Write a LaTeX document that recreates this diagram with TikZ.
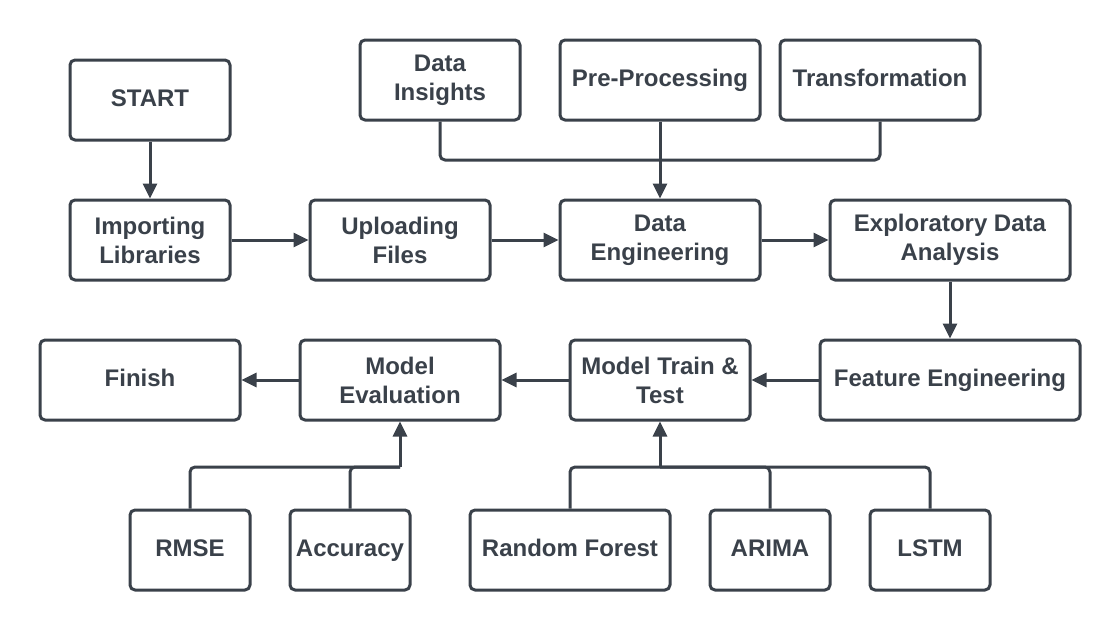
\documentclass[tikz,border=0pt]{standalone}
\usepackage{fontspec}
\setmainfont{Liberation Sans}
\usetikzlibrary{arrows.meta}
\definecolor{linegray}{HTML}{3A414A}
\tikzset{
  stepbox/.style={draw=linegray,line width=3pt,rounded corners=5pt,fill=white,text=linegray,
    font=\bfseries\fontsize{24}{29}\selectfont,align=center,inner sep=0pt,minimum height=80pt},
  oneline/.style={stepbox,text height=17pt,text depth=5pt},
  flow/.style={draw=linegray,line width=3pt,rounded corners=5pt},
  flowarrow/.style={flow,-{Triangle[length=15pt,width=14pt]}}
}
\begin{document}
\begin{tikzpicture}[x=1pt,y=-1pt,line join=round]
\useasboundingbox (0,0) rectangle (1120,635);
\node[oneline,minimum width=160pt] (start) at (150,100) {START};
\node[stepbox,minimum width=160pt] (implib) at (150,240) {Importing\\Libraries};
\node[stepbox,minimum width=180pt] (upload) at (400,240) {Uploading\\Files};
\node[stepbox,minimum width=200pt] (dataeng) at (660,240) {Data\\Engineering};
\node[stepbox,minimum width=240pt] (eda) at (950,240) {Exploratory Data\\Analysis};
\node[stepbox,minimum width=160pt] (insights) at (440,80) {Data\\Insights};
\node[oneline,minimum width=200pt] (preproc) at (660,80) {Pre-Processing};
\node[oneline,minimum width=200pt] (transform) at (880,80) {Transformation};
\node[oneline,minimum width=200pt] (finish) at (140,380) {Finish};
\node[stepbox,minimum width=200pt] (modeleval) at (400,380) {Model\\Evaluation};
\node[stepbox,minimum width=180pt] (modeltrain) at (660,380) {Model Train \&\\Test};
\node[oneline,minimum width=260pt] (featEng) at (950,380) {Feature Engineering};
\node[oneline,minimum width=120pt] (rmse) at (190,550) {RMSE};
\node[oneline,minimum width=120pt] (accuracy) at (350,550) {Accuracy};
\node[oneline,minimum width=200pt] (rforest) at (570,550) {Random Forest};
\node[oneline,minimum width=120pt] (arima) at (770,550) {ARIMA};
\node[oneline,minimum width=120pt] (lstm) at (930,550) {LSTM};
\coordinate (topjoin) at (660,160);
\coordinate (evaljoin) at (400,467);
\coordinate (trainjoin) at (660,467);
\draw[flowarrow] (start) -- (implib);
\draw[flowarrow] (implib) -- (upload);
\draw[flowarrow] (upload) -- (dataeng);
\draw[flowarrow] (dataeng) -- (eda);
\draw[flowarrow] (eda) -- (featEng);
\draw[flowarrow] (featEng) -- (modeltrain);
\draw[flowarrow] (modeltrain) -- (modeleval);
\draw[flowarrow] (modeleval) -- (finish);
\draw[flow] (insights) |- (topjoin);
\draw[flow] (transform) |- (topjoin);
\draw[flowarrow] (preproc) -- (dataeng);
\draw[flow] (rmse) |- (evaljoin);
\draw[flow] (accuracy) |- (evaljoin);
\draw[flowarrow] (evaljoin) -- (modeleval);
\draw[flow] (rforest) |- (trainjoin);
\draw[flow] (arima) |- (trainjoin);
\draw[flow] (lstm) |- (trainjoin);
\draw[flowarrow] (trainjoin) -- (modeltrain);
\end{tikzpicture}
\end{document}
